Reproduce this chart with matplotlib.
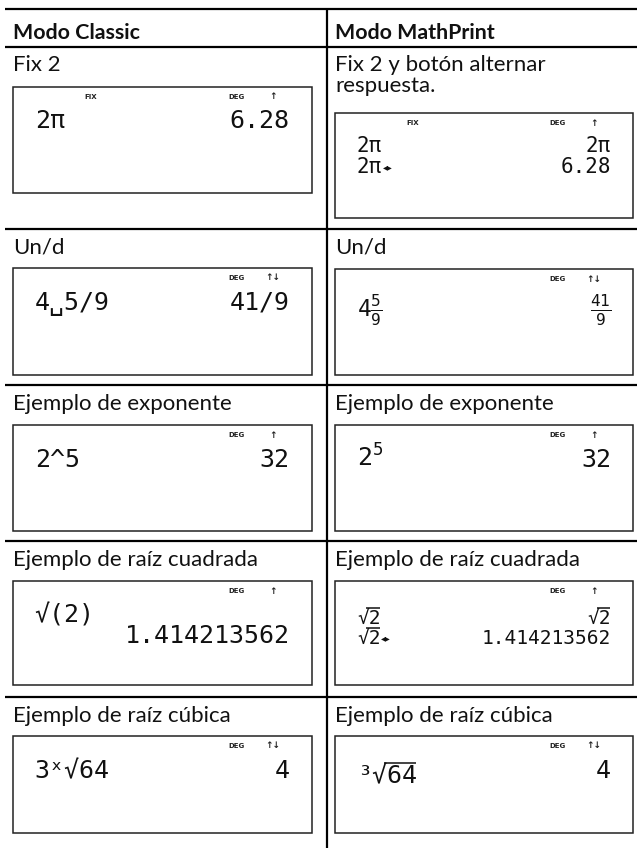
import matplotlib
matplotlib.use("Agg")
import matplotlib.pyplot as plt

plt.rcParams['mathtext.fontset'] = 'custom'
plt.rcParams['mathtext.rm'] = 'DejaVu Sans Mono'
plt.rcParams['mathtext.it'] = 'DejaVu Sans Mono'
plt.rcParams['mathtext.bf'] = 'DejaVu Sans Mono:bold'
plt.rcParams['mathtext.fallback'] = 'stixsans'

# ---------------- content ----------------
headers = ["Modo Classic", "Modo MathPrint"]
classic_labels = ["Fix 2", "Un/d", "Ejemplo de exponente",
                  "Ejemplo de raíz cuadrada", "Ejemplo de raíz cúbica"]
mathprint_labels = ["Fix 2 y botón alternar\nrespuesta.", "Un/d", "Ejemplo de exponente",
                    "Ejemplo de raíz cuadrada", "Ejemplo de raíz cúbica"]
mode_flags = ["FIX", "", "", "", ""]
angle_flags = ["DEG", "DEG", "DEG", "DEG", "DEG"]
arrow_flags = ["↑", "↑↓", "↑", "↑", "↑↓"]
# classic display: list of (input, result) lines
classic_lines = [
    [("2π", "6.28")],
    [("4␣5/9", "41/9")],
    [("2^5", "32")],
    [("√(2)", ""), ("", "1.414213562")],
    [("3ˣ√64", "4")],
]
# MathPrint display: (input, result) per line; "√x" inputs get an overline drawn
mathprint_lines = [
    [("2π", "2π"), ("2π", "6.28")],
    [(r"$4\frac{5}{9}$", r"$\frac{41}{9}$")],
    [(r"$2^{5}$", "32")],
    [("√2", "√2"), ("√2", "1.414213562")],
    [("³√64", "4")],
]
# answer-toggle marker after the input of a line
mathprint_toggle = [[False, True], [False], [False], [False, True], [False]]
TOGGLE = "◂▸"

# ---------------- layout ----------------
W, H = 641, 848
fig = plt.figure(figsize=(W / 100, H / 100), dpi=100)
ax = fig.add_axes([0, 0, 1, 1])
ax.set_xlim(0, W)
ax.set_ylim(H, 0)
ax.axis('off')

LABEL_FONT = ['Lato', 'DejaVu Sans']
LCD = ['DejaVu Sans Mono', 'DejaVu Sans']
TXT_C = '#111111'
LINE_C = '#000000'

table_top = 8.7
row_top = [46.7, 228.7, 385, 541, 697]
x_left, x_right, x_mid = 5, 637, 326.5
col_text_x = [12.7, 335]
col_box = [(12.7, 311.7), (335, 633)]
box_geom = [
    [(40, 106), (66.3, 105)],
    [(39.3, 107), (40.3, 106)],
    [(40, 106), (40, 106)],
    [(40, 104), (40, 104)],
    [(39, 97), (39, 97)],
]
classic_base = [[41], [42], [42], [42, 62], [42]]
classic_fs = [18, 18, 18, 18, 18]
mp_base = [[39, 60], [48], [42], [43, 63], [47]]
mp_res_base = [[39, 60], [48], [42], [43, 63], [42]]
mp_fs = [15, 16.5, 18, 14, 18]


def adv(fs):
    return 0.602 * fs * 100 / 72


def em(fs):
    return fs * 100 / 72


def overline_sqrt(x0, base, s, fs, right=False):
    """draw the vinculum over the radicand of a '√...' text"""
    a = adv(fs)
    n = len(s)
    i = s.index("√")
    if right:
        x0 = x0 - n * a
    xa = x0 + (i + 0.78) * a
    xb = x0 + n * a - 0.05 * a
    y = base - 0.80 * em(fs)
    ax.plot([xa, xb], [y, y], color=TXT_C, lw=1.1, solid_capstyle='butt')


# grid
ax.plot([x_left, x_right], [table_top, table_top], color=LINE_C, lw=1.6, solid_capstyle='butt')
for y in row_top:
    ax.plot([x_left, x_right], [y, y], color=LINE_C, lw=1.6, solid_capstyle='butt')
ax.plot([x_mid, x_mid], [table_top, H], color=LINE_C, lw=1.6, solid_capstyle='butt')

# headers
for c, h in enumerate(headers):
    ax.text(col_text_x[c], 39, h, fontsize=15.4, fontweight='bold', family=LABEL_FONT,
            ha='left', va='baseline', color=TXT_C)

for r in range(5):
    rt = row_top[r]
    for c in range(2):
        label = classic_labels[r] if c == 0 else mathprint_labels[r]
        for k, part in enumerate(label.split("\n")):
            ax.text(col_text_x[c], rt + 24.5 + 21 * k, part, fontsize=16, family=LABEL_FONT,
                    ha='left', va='baseline', color=TXT_C)
        off, hgt = box_geom[r][c]
        bx0, bx1 = col_box[c]
        by0 = rt + off
        ax.add_patch(plt.Rectangle((bx0, by0), bx1 - bx0, hgt, fill=False,
                                   ec='#222222', lw=1.1))
        # indicators
        iy = by0 + 10
        if mode_flags[r]:
            ax.text(bx0 + 78, iy, mode_flags[r], fontsize=5, fontweight='bold',
                    family='DejaVu Sans', ha='center', va='center', color='#222222')
        ax.text(bx1 - 75, iy, angle_flags[r], fontsize=5, fontweight='bold',
                family='DejaVu Sans', ha='center', va='center', color='#222222')
        ax.text(bx1 - 39, iy, arrow_flags[r], fontsize=6.5, fontweight='bold',
                family='DejaVu Sans', ha='center', va='center', color='#222222')
        lx, rx = bx0 + 22, bx1 - 22
        if c == 0:
            for (inp, res), b in zip(classic_lines[r], classic_base[r]):
                if inp:
                    ax.text(lx, by0 + b, inp, fontsize=classic_fs[r], family=LCD,
                            ha='left', va='baseline', color=TXT_C)
                if res:
                    ax.text(rx, by0 + b, res, fontsize=classic_fs[r], family=LCD,
                            ha='right', va='baseline', color=TXT_C)
        else:
            fs = mp_fs[r]
            for (inp, res), b, rb, tog in zip(mathprint_lines[r], mp_base[r],
                                              mp_res_base[r], mathprint_toggle[r]):
                if inp:
                    ax.text(lx, by0 + b, inp, fontsize=fs, family=LCD,
                            ha='left', va='baseline', color=TXT_C)
                    if "√" in inp and "$" not in inp:
                        overline_sqrt(lx, by0 + b, inp, fs)
                    if tog:
                        ax.text(lx + len(inp) * adv(fs) + 1, by0 + b - 0.3 * em(fs), TOGGLE,
                                fontsize=7, family='DejaVu Sans', ha='left', va='center',
                                color=TXT_C)
                if res:
                    ax.text(rx, by0 + rb, res, fontsize=fs, family=LCD,
                            ha='right', va='baseline', color=TXT_C)
                    if "√" in res and "$" not in res:
                        overline_sqrt(rx, by0 + rb, res, fs, right=True)

fig.savefig("out.png", dpi=100)
